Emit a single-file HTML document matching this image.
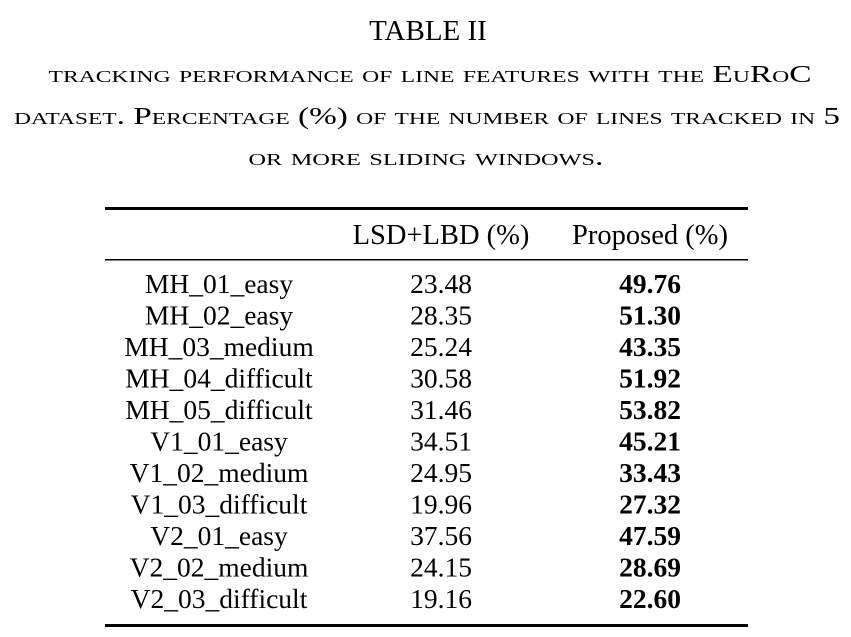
<!DOCTYPE html>
<html><head><meta charset="utf-8"><style>
html,body{margin:0;padding:0;background:#fff;}
svg{display:block;font-family:"Liberation Serif",serif;}
.cap{font-variant:small-caps;font-size:24px;}
</style></head><body>
<svg width="851" height="637" viewBox="0 0 851 637">
<text x="428" y="40" text-anchor="middle" font-size="29">TABLE II</text>
<text class="cap" x="430" y="82" text-anchor="middle" textLength="763" lengthAdjust="spacingAndGlyphs">tracking performance of line features with the EuRoC</text>
<text class="cap" x="427" y="124" text-anchor="middle" textLength="826" lengthAdjust="spacingAndGlyphs">dataset. Percentage (%) of the number of lines tracked in 5</text>
<text class="cap" x="426" y="165" text-anchor="middle" textLength="355" lengthAdjust="spacingAndGlyphs">or more sliding windows.</text>
<rect x="105" y="207" width="643" height="3" fill="#000"/>
<rect x="105" y="259" width="643" height="1.5" fill="#000"/>
<rect x="105" y="624" width="643" height="3" fill="#000"/>
<text x="441" y="244" font-size="28.5" text-anchor="middle">LSD+LBD (%)</text>
<text x="650" y="244" font-size="28.5" text-anchor="middle">Proposed (%)</text>
<g id="rows"></g>
</svg>
<script>
const names=["MH_01_easy","MH_02_easy","MH_03_medium","MH_04_difficult","MH_05_difficult","V1_01_easy","V1_02_medium","V1_03_difficult","V2_01_easy","V2_02_medium","V2_03_difficult"];
const lsd=["23.48","28.35","25.24","30.58","31.46","34.51","24.95","19.96","37.56","24.15","19.16"];
const prop=["49.76","51.30","43.35","51.92","53.82","45.21","33.43","27.32","47.59","28.69","22.60"];
const g=document.getElementById('rows');
const NS="http://www.w3.org/2000/svg";
function t(x,y,s,bold){const e=document.createElementNS(NS,'text');e.setAttribute('x',x);e.setAttribute('y',y);e.setAttribute('font-size','27.5');e.setAttribute('text-anchor','middle');if(bold)e.setAttribute('font-weight','bold');e.textContent=s;g.appendChild(e);return e;}
names.forEach((n,i)=>{
  const y=293+i*31.5;
  const a=t(219,y,n,false);
  
  
  const b=t(441,y,lsd[i],false);
  
  
  const c=t(650,y,prop[i],true);
  
  
});
</script>
</body></html>
